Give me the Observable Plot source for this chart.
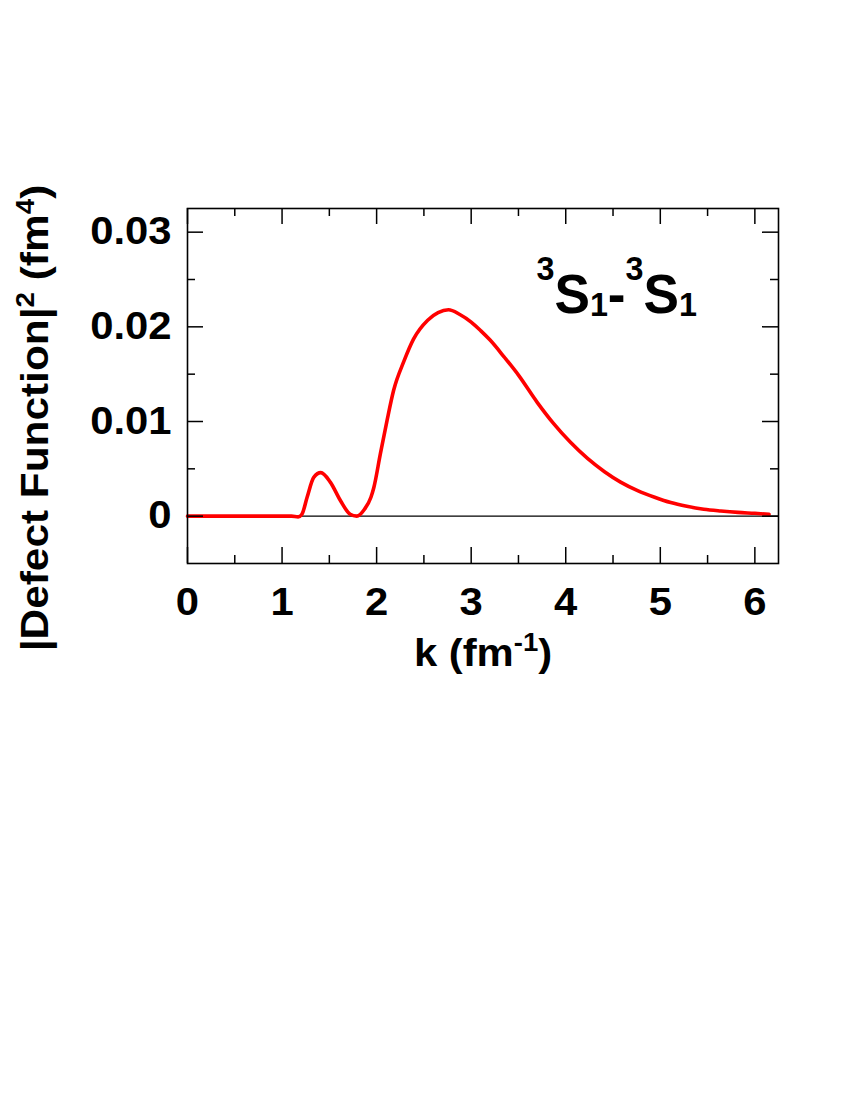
<!DOCTYPE html>
<html><head><meta charset="utf-8">
<script src="https://cdn.jsdelivr.net/npm/d3@7"></script>
<script src="https://cdn.jsdelivr.net/npm/@observablehq/plot@0.6"></script>
<style>
body{margin:0;background:#fff;}
#chart svg{font-family:"Liberation Sans",Arial,sans-serif;font-weight:bold;}
</style>
</head><body><div id="chart"></div>
<script>
// momentum k (fm^-1)
const k = [0, 0.5, 1.0, 1.1, 1.17, 1.21, 1.265, 1.335, 1.41, 1.51, 1.62, 1.72, 1.79, 1.87, 1.94, 1.97,
  2.04, 2.11, 2.18, 2.29, 2.39, 2.54, 2.65, 2.76, 2.88, 3.0, 3.1, 3.2, 3.35, 3.5, 3.7, 3.87, 4.05,
  4.23, 4.41, 4.58, 4.76, 4.94, 5.11, 5.28, 5.46, 5.64, 5.82, 6.0, 6.15];
// |Defect Function|^2 (fm^4)
const defect = [0, 0, 0, 0, -0.00008, 0.0002, 0.0020, 0.0041, 0.0046, 0.0036, 0.0016, 0.0002, 0, 0.0007, 0.0020, 0.0030,
  0.0066, 0.0101, 0.0133, 0.0164, 0.0187, 0.0207, 0.0215, 0.0218, 0.0213, 0.0205, 0.0196, 0.0186, 0.0168, 0.0149, 0.0120, 0.0098, 0.0078,
  0.0061, 0.0047, 0.0036, 0.0027, 0.0020, 0.00144, 0.00105, 0.00074, 0.00055, 0.0004, 0.0003, 0.0002];

const xMajorTicks = [0, 1, 2, 3, 4, 5, 6];
const xMinorTicks = [0.5, 1.5, 2.5, 3.5, 4.5, 5.5];
const yMajorTicks = [0, 0.01, 0.02, 0.03];
const yMinorTicks = [0.005, 0.015, 0.025];
const yTickLabels = ["0", "0.01", "0.02", "0.03"];
const xTickLabels = ["0", "1", "2", "3", "4", "5", "6"];
const xLabel = "k (fm-1)";
const yLabel = "|Defect Function|2 (fm4)";
const annotation = "3S1-3S1";

const data = k.map((v, i) => ({k: v, f: defect[i]}));

const W = 850, H = 700, mL = 187, mR = 72, mT = 208, mB = 137;
const frameH = H - mT - mB, frameW = W - mL - mR;
const major = 16, minor = 8;
const tk = {stroke: "black", strokeWidth: 1.5};

const chart = Plot.plot({
  width: W, height: H,
  marginLeft: mL, marginRight: mR, marginTop: mT, marginBottom: mB,
  style: {fontSize: "38px", fontWeight: "bold", fontFamily: "Liberation Sans, Arial, sans-serif", color: "black", background: "white"},
  x: {domain: [0, 6.25]},
  y: {domain: [-0.005, 0.0325]},
  marks: [
    Plot.ruleY([0], {stroke: "black", strokeWidth: 1.3}),
    Plot.line(data, {x: "k", y: "f", stroke: "#ff0000", strokeWidth: 3.6, curve: "monotone-x"}),
    // inward ticks, bottom & top
    Plot.tickX(xMajorTicks, {x: d => d, insetTop: frameH - major, ...tk}),
    Plot.tickX(xMinorTicks, {x: d => d, insetTop: frameH - minor, ...tk}),
    Plot.tickX(xMajorTicks, {x: d => d, insetBottom: frameH - major, ...tk}),
    Plot.tickX(xMinorTicks, {x: d => d, insetBottom: frameH - minor, ...tk}),
    // inward ticks, left & right
    Plot.tickY(yMajorTicks, {y: d => d, insetRight: frameW - major, ...tk}),
    Plot.tickY(yMinorTicks, {y: d => d, insetRight: frameW - minor, ...tk}),
    Plot.tickY(yMajorTicks, {y: d => d, insetLeft: frameW - major, ...tk}),
    Plot.tickY(yMinorTicks, {y: d => d, insetLeft: frameW - minor, ...tk}),
    Plot.axisX(xMajorTicks, {tickSize: 0, tickPadding: 25, tickFormat: (d, i) => xTickLabels[i], label: null, fontSize: 38}),
    Plot.axisY(yMajorTicks, {tickSize: 0, tickPadding: 16, tickFormat: (d, i) => yTickLabels[i], label: null, fontSize: 38}),
    Plot.frame({stroke: "black", strokeWidth: 1.6}),
    Plot.text([xLabel], {text: d => d, frameAnchor: "bottom", textAnchor: "middle", dy: 102, fontSize: 38, fontWeight: "bold"}),
    Plot.text([yLabel], {text: d => d, frameAnchor: "left", textAnchor: "middle", lineAnchor: "middle", dx: -140, dy: 32, rotate: -90, fontSize: 38, fontWeight: "bold"}),
    Plot.text([annotation], {text: d => d, x: 3.69, y: 0.0215, textAnchor: "start", lineAnchor: "bottom", fontSize: 56, fontWeight: "bold"})
  ]
});
document.getElementById("chart").append(chart);

// horizontal stretch of a text element around its own anchor
function stretch(t, sx, baseline) {
  const tr = t.getAttribute("transform") || "";
  const xa = t.getAttribute("x");
  let pre = "";
  if (xa !== null && !isNaN(+xa) && +xa !== 0) { pre = `translate(${+xa},0) `; t.removeAttribute("x"); }
  if (baseline) t.removeAttribute("y");
  t.setAttribute("transform", `${tr} ${pre}scale(${sx},1)`);
}

// rich text (superscripts / subscripts)
chart.querySelectorAll("text").forEach(t => {
  const c = t.textContent;
  if (c === xLabel) {
    t.innerHTML = `<tspan>k (fm</tspan><tspan dy="-15" font-size="25">-1</tspan><tspan dy="15">)</tspan>`;
    stretch(t, 1.1, true);
  } else if (c === yLabel) {
    t.innerHTML = `<tspan>|Defect Function|</tspan><tspan dy="-14" font-size="25">2</tspan><tspan dy="14"> (fm</tspan><tspan dy="-14" font-size="25">4</tspan><tspan dy="14">)</tspan>`;
    stretch(t, 1.115, true);
  } else if (c === annotation) {
    t.innerHTML = `<tspan dy="-33" font-size="34">3</tspan><tspan dy="33">S</tspan><tspan dy="3" font-size="34">1</tspan><tspan dy="-3">-</tspan><tspan dy="-33" font-size="34">3</tspan><tspan dy="33">S</tspan><tspan dy="3" font-size="34">1</tspan>`;
    stretch(t, 0.95, true);
  } else {
    stretch(t, 1.1, false);
  }
});
</script>
</body></html>
